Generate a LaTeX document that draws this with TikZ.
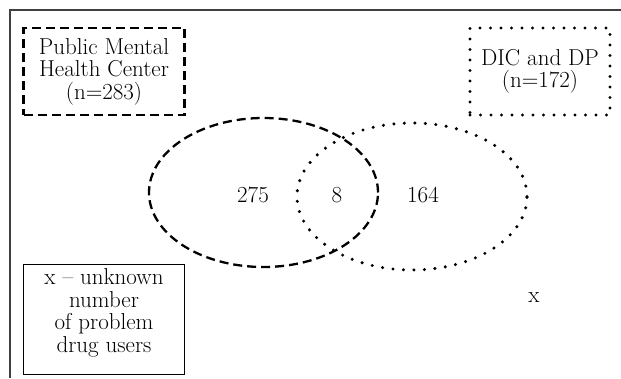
\documentclass[tikz,border=0pt]{standalone}
\usepackage{fontspec}
\setmainfont{Latin Modern Roman}
\usetikzlibrary{shapes.geometric}
\begin{document}
\begin{tikzpicture}[x=1pt,y=-1pt,
  txt/.style={font=\fontsize{23}{22.5}\selectfont, align=center, inner sep=0pt},
  dashedline/.style={line width=2.3pt, dash pattern=on 9pt off 5pt},
  dottedline/.style={line width=3.4pt, line cap=round, dash pattern=on 0pt off 10.5pt},
  framebox/.style={rectangle, inner sep=0pt, align=center, font=\fontsize{23}{22.5}\selectfont},
  vennset/.style={ellipse, inner sep=0pt}
]
\useasboundingbox (0,0) rectangle (621,378);
% outer frame
\draw[line width=1.3pt, black!75] (621,10) -- (10,10) -- (10,378);
% labels
\node[framebox, dashedline, draw, minimum width=161pt, minimum height=87pt] (pmhc) at (104,71.5) {Public Mental\\Health Center\\(n=283)};
\node[framebox, dottedline, draw, minimum width=140pt, minimum height=87pt] (dic) at (540,71.5) {DIC and DP\\(n=172)};
\node[framebox, draw, line width=1pt, minimum width=161pt, minimum height=110pt] (xbox) at (104,319) {};
\node[txt] (xtext) at (104,313) {x -- unknown\\number\\of problem\\drug users};
% ellipses
\node[vennset, draw, dashedline, minimum width=229pt, minimum height=149pt] (e1) at (263.5,192.5) {};
\node[vennset, draw, dottedline, minimum width=230pt, minimum height=147pt] (e2) at (412,196.5) {};
% numbers
\node[txt] (a) at (253,195) {275};
\node[txt] (b) at (337,195) {8};
\node[txt] (c) at (423,195) {164};
\node[txt] (x) at (534,298) {x};
\end{tikzpicture}
\end{document}
